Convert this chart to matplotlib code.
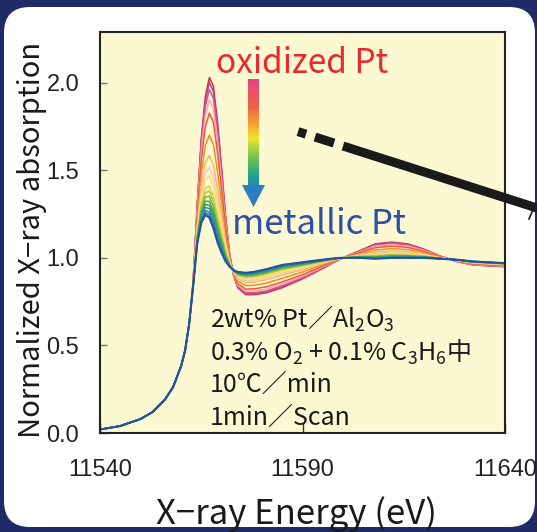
import numpy as np
import matplotlib
matplotlib.use("Agg")
import matplotlib.pyplot as plt
from matplotlib.patches import FancyBboxPatch, Polygon
from matplotlib.colors import LinearSegmentedColormap

# Pt L3-edge XANES: energy grid (eV) and the two end-member spectra
energy = np.array([
    11540, 11545, 11550, 11553, 11556, 11558, 11560, 11561, 11562, 11563,
    11564, 11565, 11566, 11567, 11568, 11569, 11570, 11571, 11572, 11573,
    11574, 11576, 11578, 11581, 11585, 11590, 11595, 11599, 11604, 11608,
    11612, 11616, 11620, 11624, 11628, 11632, 11636, 11640])
oxidized = np.array([
    0.02, 0.04, 0.08, 0.12, 0.19, 0.26, 0.38, 0.47, 0.62, 0.86,
    1.30, 1.68, 1.92, 2.03, 1.98, 1.78, 1.52, 1.24, 1.02, 0.90,
    0.83, 0.79, 0.79, 0.80, 0.83, 0.88, 0.94, 0.99, 1.04, 1.08,
    1.09, 1.08, 1.05, 1.01, 0.98, 0.96, 0.955, 0.95])
metallic = np.array([
    0.02, 0.04, 0.08, 0.12, 0.19, 0.26, 0.38, 0.47, 0.62, 0.84,
    1.08, 1.20, 1.245, 1.23, 1.17, 1.09, 1.03, 0.98, 0.95, 0.93,
    0.92, 0.915, 0.92, 0.935, 0.96, 0.975, 0.99, 1.00, 1.00, 0.995,
    1.00, 1.00, 1.00, 0.995, 0.99, 0.98, 0.975, 0.97])

# oxidized-Pt fraction of each 1-min scan, first to last
ox_fraction = [1.0, 0.963, 0.915, 0.842, 0.746, 0.588, 0.443, 0.358, 0.297,
               0.225, 0.189, 0.152, 0.116, 0.088, 0.064, 0.038, 0.019, 0.0]
scan_colors = ['#e8262c', '#a0509a', '#e05090', '#f4a8b8', '#f05a30', '#f08a28',
               '#f8b860', '#f8c8c0', '#f8e070', '#e8d030', '#b0c840', '#70b848',
               '#40a850', '#30a070', '#2a9a90', '#2888a8', '#2a6cb0', '#2850a0']

x_ticks = [11540, 11590, 11640]
y_ticks = [0.0, 0.5, 1.0, 1.5, 2.0]

JP = ['Noto Sans CJK JP', 'DejaVu Sans']
plt.rcParams['mathtext.fontset'] = 'custom'
plt.rcParams['mathtext.rm'] = 'Noto Sans CJK JP'
plt.rcParams['mathtext.it'] = 'Noto Sans CJK JP'

W, H = 537, 532
fig = plt.figure(figsize=(W / 100, H / 100), dpi=100)
fig.patch.set_facecolor('#1f2b66')

# white rounded panel behind the chart (pixel coordinates)
bg = fig.add_axes([0, 0, 1, 1], zorder=0)
bg.set_xlim(0, W)
bg.set_ylim(H, 0)
bg.axis('off')
bg.add_patch(FancyBboxPatch((4, 7), 531, 520, boxstyle="round,pad=0,rounding_size=26",
                            fc='white', ec='none'))

ax = fig.add_axes([100 / W, 1 - 433 / H, 405 / W, 401 / H], zorder=1)
ax.set_facecolor('#fbf8d2')
for frac, col in zip(ox_fraction, scan_colors):
    mu = frac * oxidized + (1 - frac) * metallic
    ax.plot(energy, mu, color=col, lw=1.1 if frac > 0 else 1.5)
ax.set_xlim(11540, 11640)
ax.set_ylim(0, 2.29)
ax.set_xticks(x_ticks)
ax.set_yticks(y_ticks)
ax.set_yticklabels([f"{v:.1f}" for v in y_ticks])
ax.tick_params(axis='y', direction='in', length=5, width=1, color='#777777', pad=15, labelsize=17)
ax.tick_params(axis='x', direction='in', length=7, width=1, color='#333333', pad=19, labelsize=17)
for lab in ax.get_xticklabels() + ax.get_yticklabels():
    lab.set_fontfamily('Liberation Sans')
    lab.set_color('#222222')
for s in ax.spines.values():
    s.set_linewidth(1.5)
    s.set_color('#222222')

# overlay in pixel coordinates for labels, arrow and pointer line
ov = fig.add_axes([0, 0, 1, 1], zorder=2)
ov.patch.set_alpha(0)
ov.axis('off')

arrow_cmap = LinearSegmentedColormap.from_list(
    'arrow', [(0.0, '#e84585'), (0.22, '#f06245'), (0.35, '#f5a030'), (0.46, '#eee530'),
              (0.62, '#70c050'), (0.75, '#20a58a'), (0.85, '#2a7fc0'), (1.0, '#2a7fc0')])
grad = np.linspace(0, 1, 256).reshape(-1, 1)
img = ov.imshow(grad, extent=(240, 267, 207, 79), cmap=arrow_cmap, aspect='auto',
                interpolation='bilinear')
arrow = Polygon([(248, 79), (259, 79), (259, 185), (265, 185), (253.5, 207),
                 (242, 185), (248, 185)], closed=True, fc='none', ec='none',
                transform=ov.transData)
ov.add_patch(arrow)
img.set_clip_path(arrow)

# dashed-then-solid pointer line
line_kw = dict(color='#1a1a1a', lw=6.5, solid_capstyle='butt')
ov.plot([298, 306], [131.6, 134.2], **line_kw)
ov.plot([315, 334], [137.0, 143.1], **line_kw)
ov.plot([343, 545], [146.0, 210.6], **line_kw)
ov.plot([529, 534.5], [219, 206], color='#1a1a1a', lw=1.2)

ov.text(216, 73, "oxidized Pt", color='#e82a2e', fontsize=24, family=JP, va='baseline')
ov.text(232, 234, "metallic Pt", color='#2b50a5', fontsize=25, family=JP, va='baseline')

notes = ["2wt% Pt／Al$_2$O$_3$",
         "0.3% O$_2$ + 0.1% C$_3$H$_6$中",
         "10℃／min",
         "1min／Scan"]
for txt, yb in zip(notes, [328, 360.5, 392, 425]):
    ov.text(210, yb, txt, color='#1a1a1a', fontsize=18, family=JP, va='baseline')

ov.text(32, 240, "Normalized X−ray absorption", rotation=90, ha='center', va='center',
        fontsize=21, family=JP, color='#1a1a1a')
ov.text(296, 524, "X−ray Energy (eV)", ha='center', va='baseline',
        fontsize=25, family=JP, color='#1a1a1a')

ov.set_xlim(0, W)
ov.set_ylim(H, 0)

fig.savefig("out.png", dpi=100, facecolor=fig.get_facecolor())
